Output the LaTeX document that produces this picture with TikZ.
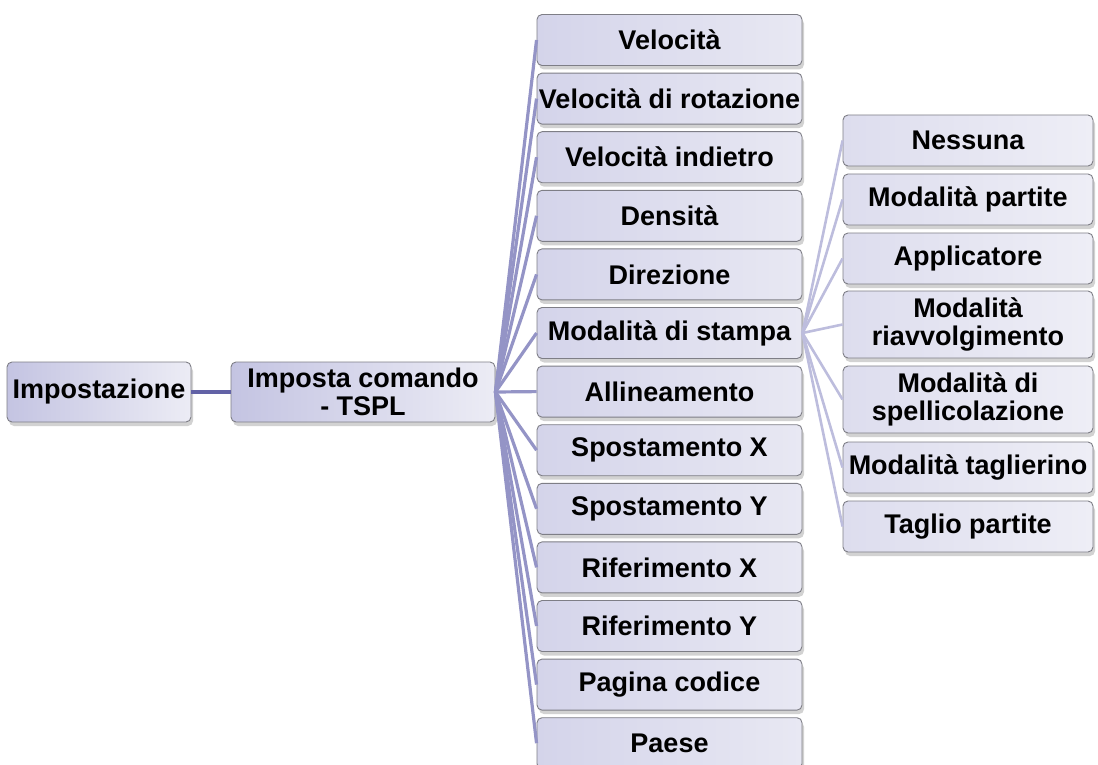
\documentclass[tikz,border=0pt]{standalone}
\usepackage{fontspec}
\setmainfont{Liberation Sans}
\usepackage{tikz}
\usetikzlibrary{shadows}
\definecolor{isedge}{HTML}{7E7E86}
\definecolor{isfillA}{HTML}{C4C4E2}
\definecolor{isfillB}{HTML}{ECECF5}
\definecolor{isfillC}{HTML}{D4D4EA}
\definecolor{isfillD}{HTML}{E8E8F3}
\definecolor{isfillE}{HTML}{DDDDEE}
\definecolor{isfillF}{HTML}{EEEEF6}
\definecolor{islinkA}{HTML}{6262A6}
\definecolor{islinkB}{HTML}{9494C6}
\definecolor{islinkC}{HTML}{BDBDDD}

\begin{document}
\begin{tikzpicture}[x=1pt,y=-1pt,font=\fontsize{27}{27.5}\selectfont\bfseries,
  isbox/.style={draw=isedge,line width=0.9pt,rounded corners=5pt,align=center,inner sep=0pt,
    drop shadow={shadow xshift=2pt,shadow yshift=-4pt,opacity=0.25,fill=black!70}},
  rootbox/.style={isbox,left color=isfillA,right color=isfillB,minimum height=60pt},
  midbox/.style={isbox,left color=isfillC,right color=isfillD,minimum width=265pt,minimum height=51pt},
  leafbox/.style={isbox,left color=isfillE,right color=isfillF,minimum width=250pt}]
  \clip (0,0) rectangle (1098,765);

  \node[rootbox,minimum width=184pt] (root) at (99,392) {Impostazione};
  \node[rootbox,minimum width=264pt] (cmd) at (363,392) {Imposta comando\\- TSPL};
  \draw[islinkA,line width=3.5pt] (root.east) -- (cmd.east -| cmd.west);

  % second level
  \foreach \i/\t in {
    0/{Velocità},
    1/{Velocità di rotazione},
    2/{Velocità indietro},
    3/{Densità},
    4/{Direzione},
    5/{Modalità di stampa},
    6/{Allineamento},
    7/{Spostamento X},
    8/{Spostamento Y},
    9/{Riferimento X},
    10/{Riferimento Y},
    11/{Pagina codice},
    12/{Paese}}
  {
    \node[midbox] (opt\i) at (669.5,{40+58.6*\i}) {\t};
    \draw[islinkB,line width=3.2pt] (cmd.east) -- (opt\i.west);
  }

  % third level, under Modalita di stampa
  \foreach \i/\y/\h/\t in {
    0/140.5/51/{Nessuna},
    1/199.5/51/{Modalità partite},
    2/258.5/51/{Applicatore},
    3/324.5/67/{Modalità\\riavvolgimento},
    4/399.5/67/{Modalità di\\spellicolazione},
    5/467.5/51/{Modalità taglierino},
    6/526.5/51/{Taglio partite}}
  {
    \node[leafbox,minimum height=\h pt] (mode\i) at (968,\y) {\t};
    \draw[islinkC,line width=2.6pt] (opt5.east) -- (mode\i.west);
  }
\end{tikzpicture}
\end{document}
